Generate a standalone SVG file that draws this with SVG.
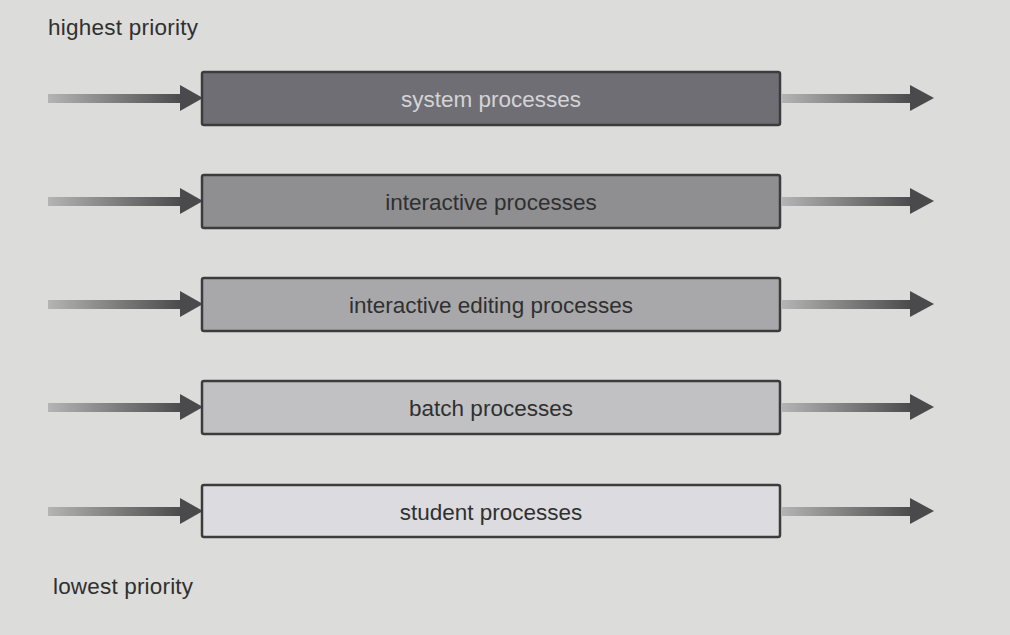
<svg xmlns="http://www.w3.org/2000/svg" width="1010" height="635" viewBox="0 0 1010 635">
<defs>
<linearGradient id="shaft" x1="0" y1="0" x2="1" y2="0">
<stop offset="0" stop-color="#b4b4b4"/>
<stop offset="1" stop-color="#4a4a4c"/>
</linearGradient>
</defs>
<style>
.box{stroke:#3c3c3e;stroke-width:2.5}
.lbl{font-family:"Liberation Sans",Arial,sans-serif;font-size:22.5px;text-anchor:middle;fill:#303030}
.side{font-family:"Liberation Sans",Arial,sans-serif;font-size:22.5px;fill:#303030}
.sh{fill:url(#shaft)}
</style>
<rect width="1010" height="635" fill="#dcdcda"/>
<text class="side" x="48" y="35" textLength="150">highest priority</text>
<text class="side" x="53" y="594" textLength="140">lowest priority</text>
<g id="connectors">
<g transform="translate(0,98)">
<rect class="sh" x="48" y="-4" width="134" height="9"/><path d="M180,-13 L203,0 L180,13 Z" fill="#4a4a4c"/>
<rect class="sh" x="782" y="-4" width="130" height="9"/><path d="M910,-13 L934,0 L910,13 Z" fill="#4a4a4c"/>
</g>
<g transform="translate(0,201)">
<rect class="sh" x="48" y="-4" width="134" height="9"/><path d="M180,-13 L203,0 L180,13 Z" fill="#4a4a4c"/>
<rect class="sh" x="782" y="-4" width="130" height="9"/><path d="M910,-13 L934,0 L910,13 Z" fill="#4a4a4c"/>
</g>
<g transform="translate(0,304)">
<rect class="sh" x="48" y="-4" width="134" height="9"/><path d="M180,-13 L203,0 L180,13 Z" fill="#4a4a4c"/>
<rect class="sh" x="782" y="-4" width="130" height="9"/><path d="M910,-13 L934,0 L910,13 Z" fill="#4a4a4c"/>
</g>
<g transform="translate(0,407)">
<rect class="sh" x="48" y="-4" width="134" height="9"/><path d="M180,-13 L203,0 L180,13 Z" fill="#4a4a4c"/>
<rect class="sh" x="782" y="-4" width="130" height="9"/><path d="M910,-13 L934,0 L910,13 Z" fill="#4a4a4c"/>
</g>
<g transform="translate(0,511)">
<rect class="sh" x="48" y="-4" width="134" height="9"/><path d="M180,-13 L203,0 L180,13 Z" fill="#4a4a4c"/>
<rect class="sh" x="782" y="-4" width="130" height="9"/><path d="M910,-13 L934,0 L910,13 Z" fill="#4a4a4c"/>
</g>
</g>
<g id="system">
<rect class="box" x="202" y="72" width="578" height="53" rx="2" fill="#6e6e74"/>
<text class="lbl" x="491" y="107" style="fill:#d4d4d6">system processes</text>
</g>
<g id="interactive">
<rect class="box" x="202" y="175" width="578" height="53" rx="2" fill="#8f8f92"/>
<text class="lbl" x="491" y="210">interactive processes</text>
</g>
<g id="editing">
<rect class="box" x="202" y="278" width="578" height="53" rx="2" fill="#a8a8aa"/>
<text class="lbl" x="491" y="313">interactive editing processes</text>
</g>
<g id="batch">
<rect class="box" x="202" y="381" width="578" height="53" rx="2" fill="#c1c1c3"/>
<text class="lbl" x="491" y="416">batch processes</text>
</g>
<g id="student">
<rect class="box" x="202" y="485" width="578" height="52" rx="2" fill="#dcdce0"/>
<text class="lbl" x="491" y="520">student processes</text>
</g>
</svg>
